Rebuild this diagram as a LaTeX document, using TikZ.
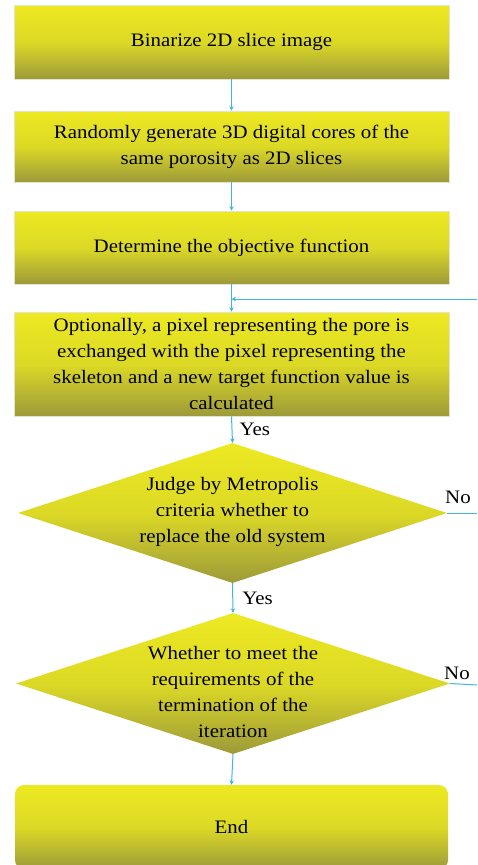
\documentclass[tikz,border=0pt]{standalone}
\usepackage{fontspec}
\setmainfont[FakeStretch=1.1]{Liberation Serif}
\usetikzlibrary{shapes.geometric,arrows.meta}
\definecolor{ytop}{RGB}{237,233,33}
\definecolor{ymid}{RGB}{220,217,38}
\definecolor{ybot}{RGB}{157,154,58}
\definecolor{edgec}{RGB}{228,228,205}
\definecolor{arrc}{RGB}{64,180,226}
\begin{document}
\begin{tikzpicture}[x=1pt,y=-1pt,
  fillstyle/.style={top color=ytop, bottom color=ybot, middle color=ymid},
  boxstyle/.style={rectangle, fillstyle, draw=edgec, line width=0.6pt, minimum width=435pt, inner sep=0pt},
  endstyle/.style={rectangle, fillstyle, rounded corners=9pt, minimum width=433pt, inner sep=0pt},
  decstyle/.style={diamond, fillstyle, inner sep=0pt},
  txt/.style={font=\fontsize{19}{26}\selectfont, align=center, inner sep=0pt},
  lbl/.style={font=\fontsize{19}{22}\selectfont, inner sep=0pt},
  flow/.style={draw=arrc, line width=1pt, -{Stealth[length=4.5pt,width=4.5pt]}},
  plain/.style={draw=arrc, line width=1pt}]
\clip (0,0) rectangle (477,865);
\fill[white] (0,0) rectangle (477,865);

\node[boxstyle, minimum height=74pt] (b1) at (231.5,42) {};
\node[txt] (t1) at (b1.center) {Binarize 2D slice image};

\node[boxstyle, minimum height=71pt] (b2) at (231.5,146.5) {};
\node[txt] (t2) at (b2.center) {Randomly generate 3D digital cores of the\\same porosity as 2D slices};

\node[boxstyle, minimum height=73pt] (b3) at (231.5,247.5) {};
\node[txt] (t3) at (b3.center) {Determine the objective function};

\node[boxstyle, minimum height=104pt] (b4) at (231.5,364) {};
\node[txt] (t4) at (b4.center) {Optionally, a pixel representing the pore is\\exchanged with the pixel representing the\\skeleton and a new target function value is\\calculated};

\node[decstyle, minimum width=429pt, minimum height=140pt] (d1) at (232.5,513) {};
\node[txt] (t5) at (232.5,512) {Judge by Metropolis\\criteria whether to\\replace the old system};

\node[decstyle, minimum width=434pt, minimum height=141pt] (d2) at (233,683.5) {};
\node[txt] (t6) at (233,692) {Whether to meet the\\requirements of the\\termination of the\\iteration};

\node[endstyle, minimum height=84pt] (e) at (231.5,827) {};
\node[txt] (t7) at (231.5,827) {End};

\coordinate (fbR) at (477,299);
\coordinate (fbL) at (231.5,299);
\coordinate (n1) at (477,513);
\coordinate (n2) at (477,685);

\draw[flow] (b1.south) -- (b2.north);
\draw[flow] (b2.south) -- (b3.north);
\draw[flow] (b3.south) -- (b4.north);
\draw[flow] (fbR) -- (fbL);
\draw[flow] (b4.south) -- node[lbl, right=7pt] (y1) {Yes} (d1.north);
\draw[flow] (d1.south) -- node[lbl, right=9pt] (y2) {Yes} (d2.north);
\draw[flow] (d2.south) -- (e.north);
\draw[plain] (d1.east) -- (n1);
\draw[plain] (d2.east) -- (n2);
\node[lbl] (no1) at (458,497) {No};
\node[lbl] (no2) at (457,673) {No};
\end{tikzpicture}
\end{document}
